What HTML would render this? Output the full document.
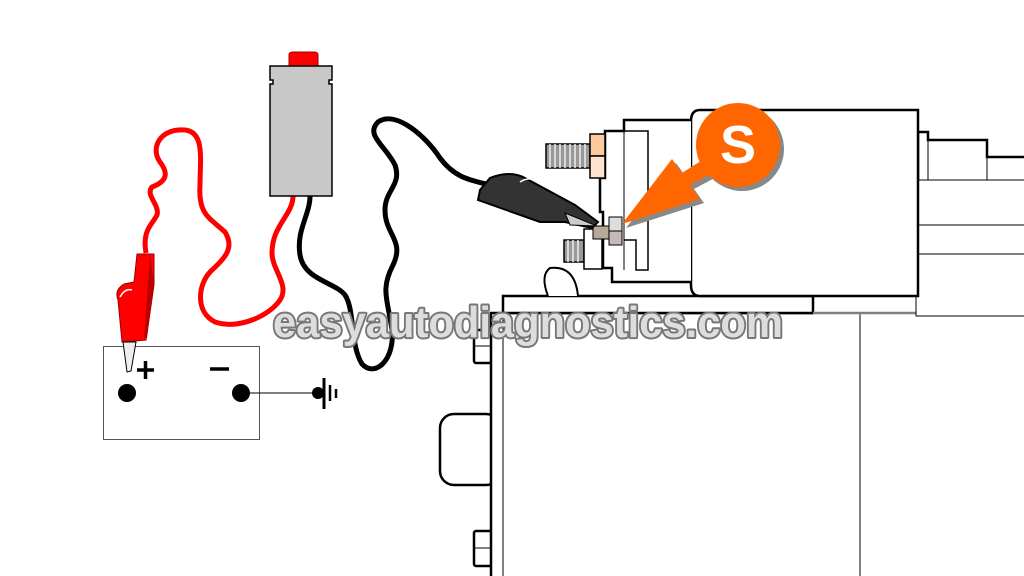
<!DOCTYPE html>
<html><head><meta charset="utf-8"><style>html,body{margin:0;padding:0;background:#fff;overflow:hidden;width:1024px;height:576px}svg{display:block}</style></head>
<body>
<svg width="1024" height="576" viewBox="0 0 1024 576" xmlns="http://www.w3.org/2000/svg">
<rect width="1024" height="576" fill="#fff"/>
<!-- starter body -->
<g fill="#fff" stroke="#000" stroke-width="2.5">
<rect x="440" y="414" width="60" height="71" rx="14"/>
<rect x="474" y="330" width="18" height="33" rx="2"/>
<rect x="474" y="531" width="18" height="35" rx="2"/>
<path d="M491 580 V313 H1030 V580 Z"/>
<rect x="503" y="296" width="310" height="17"/>
</g>
<g stroke="#000" stroke-width="1" fill="none">
<line x1="503" y1="313" x2="503" y2="576"/>
<line x1="860" y1="313" x2="860" y2="576"/>
<line x1="474" y1="346" x2="491" y2="346"/>
<line x1="474" y1="548" x2="491" y2="548"/>
</g>
<line x1="813" y1="313" x2="1024" y2="313" stroke="#fff" stroke-width="2.6"/>
<line x1="813" y1="313" x2="1024" y2="313" stroke="#000" stroke-width="1"/>
<!-- right side of motor -->
<g fill="#fff" stroke="#000" stroke-width="1">
<rect x="916" y="254" width="120" height="62"/>
<rect x="916" y="180" width="120" height="45"/>
<rect x="916" y="225" width="120" height="29"/>
</g>
<path d="M918 180 V132 H928 V140 H987 V157 H1024" fill="none" stroke="#000" stroke-width="2.5"/>
<path d="M928 140 V180 M987 157 V180" stroke="#000" stroke-width="1"/>
<!-- solenoid -->
<path d="M700 110 H918 V296 H700 Q691 296 691 285 V121 Q691 110 700 110 Z" fill="#fff" stroke="#000" stroke-width="2.5"/>
<path d="M691 120 H624 V131 H605 V178 H600 V212 H603 V268 H612 V282 H624 V282 H691" fill="#fff" stroke="#000" stroke-width="2.5"/>
<path d="M624 131 H648 V270 H636 V240 H624" fill="none" stroke="#000" stroke-width="1.5"/>
<path d="M624 131 V270" stroke="#000" stroke-width="1"/>
<!-- lower left curved piece -->
<path d="M548 296 Q540 275 550 268 Q575 265 578 296" fill="#fff" stroke="#000" stroke-width="2"/>
<!-- top bolt -->
<rect x="546" y="144" width="44" height="24" fill="#999" stroke="#000" stroke-width="1.5"/>
<g stroke="#eee" stroke-width="1.5"><line x1="550" y1="144" x2="550" y2="168"/><line x1="555" y1="144" x2="555" y2="168"/><line x1="560" y1="144" x2="560" y2="168"/><line x1="565" y1="144" x2="565" y2="168"/><line x1="570" y1="144" x2="570" y2="168"/><line x1="575" y1="144" x2="575" y2="168"/><line x1="580" y1="144" x2="580" y2="168"/><line x1="585" y1="144" x2="585" y2="168"/></g>
<rect x="590" y="134" width="15" height="22" fill="#fcc9a1" stroke="#000" stroke-width="1.5"/>
<rect x="590" y="156" width="15" height="22" fill="#fde2cd" stroke="#000" stroke-width="1.5"/>
<!-- lower bolt -->
<rect x="564" y="240" width="20" height="22" fill="#999" stroke="#000" stroke-width="1.5"/>
<g stroke="#eee" stroke-width="1.5"><line x1="568" y1="240" x2="568" y2="262"/><line x1="573" y1="240" x2="573" y2="262"/><line x1="578" y1="240" x2="578" y2="262"/></g>
<rect x="584" y="229" width="18" height="40" fill="#fff" stroke="#000" stroke-width="1.5"/>
<!-- S terminal -->
<rect x="593" y="226" width="16" height="13" fill="#b8a898" stroke="#000" stroke-width="1"/>
<rect x="609" y="217" width="13" height="14" fill="#ddd" stroke="#000" stroke-width="1"/>
<rect x="609" y="231" width="13" height="14" fill="#c8b8b8" stroke="#000" stroke-width="1"/>
<!-- black wire -->
<path d="M310 196 C310 215 296 230 300 255 C304 280 335 282 345 295 C355 310 350 345 362 364 C375 378 395 360 392 330 C388 300 380 290 393 265 C405 240 385 235 385 210 C385 190 402 185 395 165 C385 145 365 135 378 122 C395 110 425 135 440 158 C455 178 470 180 490 185" fill="none" stroke="#000" stroke-width="5"/>
<!-- black clip -->
<path d="M480 190 L490 178 Q510 170 525 178 L575 205 L598 222 L592 228 L565 222 Q550 222 540 222 L478 200 Z" fill="#333" stroke="#000" stroke-width="2"/>
<path d="M565 213 L597 226 L570 225 Z" fill="#ccc" stroke="#000" stroke-width="1"/>
<path d="M520 182 Q528 177 533 180" stroke="#fff" stroke-width="1.5" fill="none"/>
<!-- orange S callout -->
<g transform="translate(4,4)" fill="#888">
<circle cx="738" cy="145" r="42"/>
<path d="M622 224 L672 159 L682 173 L710 155 L718 170 L690 185 L700 199 Z"/>
</g>
<path d="M622 224 L672 159 L682 173 L710 155 L718 170 L690 185 L700 199 Z" fill="#ff6600"/>
<circle cx="738" cy="145" r="42" fill="#ff6600"/>
<text x="738" y="163" text-anchor="middle" font-family="Liberation Sans, sans-serif" font-weight="bold" font-size="54" fill="#fff">S</text>
<!-- battery -->
<rect x="103.5" y="346.5" width="156" height="93" fill="#fff" stroke="#555" stroke-width="1"/>
<circle cx="127" cy="393" r="9" fill="#000"/>
<circle cx="241" cy="393" r="9" fill="#000"/>
<line x1="241" y1="393" x2="318" y2="393" stroke="#000" stroke-width="1"/>
<circle cx="318" cy="393" r="6" fill="#000"/>
<line x1="324" y1="378" x2="324" y2="409" stroke="#000" stroke-width="3"/>
<line x1="330" y1="385" x2="330" y2="401" stroke="#000" stroke-width="2.5"/>
<line x1="336" y1="389" x2="336" y2="398" stroke="#000" stroke-width="2.5"/>
<path d="M137 370 H154 M145.5 361 V379" stroke="#000" stroke-width="3.5"/>
<path d="M210 369 H229" stroke="#000" stroke-width="3.5"/>
<!-- red wire -->
<path d="M293 196 C293 215 272 225 272 253 C272 270 290 285 280 300 C270 315 240 330 215 322 C195 312 198 285 210 272 C225 258 235 248 225 232 C210 218 198 215 200 185 C200 160 205 132 185 130 C160 128 150 148 160 162 C170 175 165 182 152 187 C145 195 160 205 157 215 C152 225 142 230 146 253" fill="none" stroke="#f00" stroke-width="5"/>
<!-- red clip -->
<path d="M137 254 H154 L154 285 L146 340 L122 342 L118 300 Q114 290 124 284 L134 282 Z" fill="#f00" stroke="#900" stroke-width="1"/>
<path d="M150 256 L154 285 L147 338 L144 338 Z" fill="#b00"/>
<path d="M120 297 Q125 288 132 290" stroke="#fff" stroke-width="1.5" fill="none"/>
<path d="M123 342 L136 342 L131 371 L127 372 Z" fill="#eee" stroke="#000" stroke-width="1"/>
<!-- tester -->
<path d="M289 66 V55 Q289 52 293 52 H314 Q318 52 318 55 V66 Z" fill="#f00" stroke="#900" stroke-width="1"/>
<path d="M270 66 H332 V80 H329 V84 H332 V196 H270 V84 H273 V80 H270 Z" fill="#c8c8c8" stroke="#000" stroke-width="1.5"/>
<!-- watermark -->
<text x="273" y="337" textLength="510" lengthAdjust="spacingAndGlyphs" font-family="Liberation Sans, sans-serif" font-weight="bold" font-size="44" fill="#ddd" stroke="#777" stroke-width="4" paint-order="stroke" stroke-linejoin="round">easyautodiagnostics.com</text>
</svg>
</body></html>
